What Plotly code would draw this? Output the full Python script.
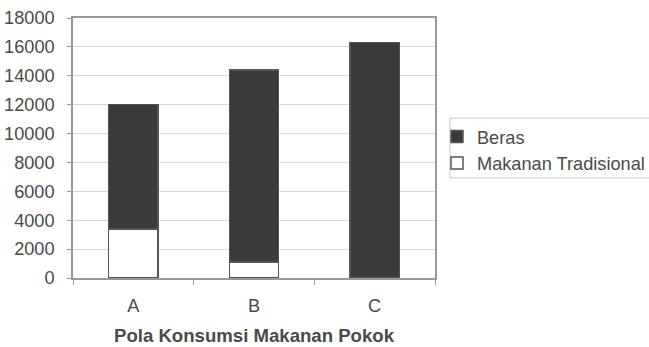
import plotly.graph_objects as go

categories = ["A", "B", "C"]
tradisional = [3400, 1100, 0]
beras = [8600, 13300, 16300]
y_ticks = [0, 2000, 4000, 6000, 8000, 10000, 12000, 14000, 16000, 18000]

FONT = "Liberation Sans, Arial, sans-serif"
TXT = "#4a4a4a"

fig = go.Figure()
fig.add_trace(go.Bar(
    x=categories, y=tradisional, name="Makanan Tradisional",
    marker=dict(color="white", line=dict(color="#555555", width=1.5)),
))
fig.add_trace(go.Bar(
    x=categories, y=beras, name="Beras",
    marker=dict(color="#3a3a3a", line=dict(color="#555555", width=1.5)),
))

fig.update_layout(
    width=649, height=347,
    barmode="stack", bargap=0.59,
    paper_bgcolor="white", plot_bgcolor="white",
    margin=dict(l=73, r=214, t=18, b=69, autoexpand=False),
    font=dict(family=FONT, size=18.2, color=TXT),
    showlegend=True,
    legend=dict(
        x=1.0055, y=0.615, xanchor="left", yanchor="top",
        traceorder="reversed",
        bgcolor="rgba(0,0,0,0)", borderwidth=0,
        font=dict(family=FONT, size=18.2, color=TXT),
        itemwidth=30, tracegroupgap=0,
    ),
    shapes=[dict(
        type="rect", xref="paper", yref="paper",
        x0=1.0414, x1=1.75, y0=0.385, y1=0.615,
        line=dict(color="#c8c8c8", width=1), fillcolor="rgba(0,0,0,0)",
        layer="below",
    )],
)
fig.update_xaxes(
    type="category",
    showline=True, linecolor="#999999", linewidth=1.5, mirror=True,
    ticks="outside", ticklen=5, tickcolor="#999999", tickson="boundaries",
    showgrid=False, ticklabelstandoff=10,
    title=dict(text="<b>Pola Konsumsi Makanan Pokok</b>", font=dict(size=18.6, color=TXT), standoff=14),
)
fig.update_yaxes(
    range=[0, 18000], tickvals=y_ticks, tickformat="d",
    showline=True, linecolor="#999999", linewidth=1.5, mirror=True,
    ticks="outside", ticklen=4, tickcolor="#999999",
    gridcolor="#d8d8d8", gridwidth=1,
    zeroline=False,
    ticklabelstandoff=9,
)

fig.write_html("out.html")
